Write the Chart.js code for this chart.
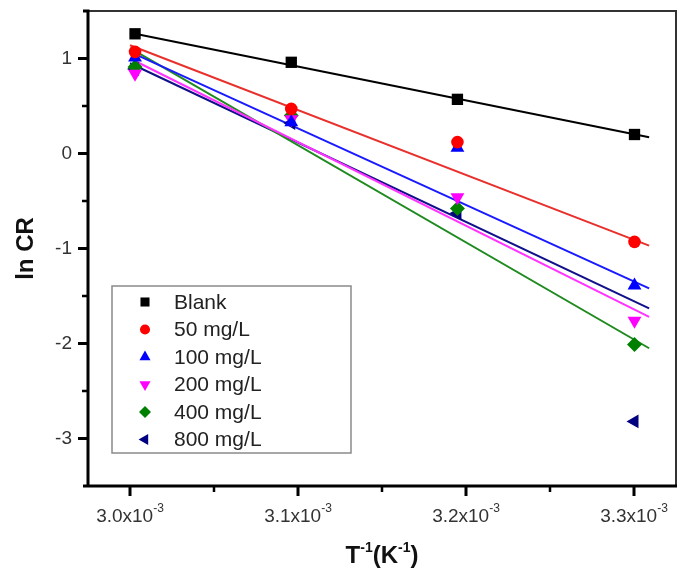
<!DOCTYPE html>
<html>
<head>
<meta charset="utf-8">
<script src="https://cdn.jsdelivr.net/npm/chart.js@4.4.0/dist/chart.umd.min.js"></script>
<style>
	html, body { margin: 0; padding: 0; background: #fff; }
</style>
</head>
<body>
<canvas id="chart-block" width="685" height="578"></canvas>
<script>
// 1/T in K^-1 (333, 323, 313, 303 K)
const invT = [0.0030030, 0.0030960, 0.0031949, 0.0033003];
const seriesNames = ['Blank', '50 mg/L', '100 mg/L', '200 mg/L', '400 mg/L', '800 mg/L'];

// ln CR
const lnBlank = [1.26, 0.96, 0.57, 0.20];
const ln50 = [1.07, 0.47, 0.12, -0.93];
const ln100 = [1.01, 0.33, 0.06, -1.39];
const ln200 = [0.84, 0.36, -0.46, -1.76];
const ln400 = [0.91, 0.40, -0.58, -2.01];
const ln800 = [0.89, 0.32, -0.63, -2.82];

// fitted straight lines, read at both ends
const fitX = [0.0030, 0.003309];
const fitBlank = [1.27, 0.17];
const fit50 = [1.14, -0.97];
const fit100 = [1.07, -1.42];
const fit200 = [1.00, -1.72];
const fit400 = [1.11, -2.05];
const fit800 = [0.95, -1.63];

// axis ticks
const xMajor = [0.0030, 0.0031, 0.0032, 0.0033];
const xMinor = [0.00305, 0.00315, 0.00325];
const yMajor = [-3, -2, -1, 0, 1];
const yMinor = [-2.5, -1.5, -0.5, 0.5];

const colors = ['#000000', '#ff0000', '#0000ff', '#ff00ff', '#008000', '#000080'];
const lineColors = ['#000000', '#e8302c', '#1a1aff', '#ff33ff', '#1f8a1f', '#10108a'];
const markers = ['rect', 'circle', 'triangle', 'triangle', 'rectRot', 'triangle'];
const markerRot = [0, 0, 0, 180, 0, -90];
const markerSize = [8, 6.3, 8, 8, 7.5, 8];

const FONT = '"Liberation Sans", Arial, sans-serif';

function pts(xs, ys) {
	return xs.map((x, i) => ({x: x, y: ys[i]}));
}

const pointSets = [lnBlank, ln50, ln100, ln200, ln400, ln800];
const fitSets = [fitBlank, fit50, fit100, fit200, fit400, fit800];

let datasets = [];
fitSets.forEach((f, i) => {
	datasets.push({
		label: seriesNames[i] + ' fit',
		data: pts(fitX, f),
		showLine: true,
		borderColor: lineColors[i],
		borderWidth: 2,
		pointRadius: 0,
		fill: false,
		order: 2
	});
});
pointSets.forEach((s, i) => {
	datasets.push({
		label: seriesNames[i],
		data: pts(invT, s),
		showLine: false,
		pointStyle: markers[i],
		rotation: markerRot[i],
		pointRadius: markerSize[i],
		backgroundColor: colors[i],
		borderColor: colors[i],
		borderWidth: 0,
		inLegend: true,
		order: 1
	});
});

const axesPlugin = {
	id: 'axesPlugin',
	afterDraw(chart) {
		const ctx = chart.ctx;
		const a = chart.chartArea;
		const xs = chart.scales.x, ys = chart.scales.y;
		ctx.save();

		// top and right frame
		ctx.strokeStyle = '#333';
		ctx.lineWidth = 2;
		ctx.beginPath();
		ctx.moveTo(a.left, a.top);
		ctx.lineTo(a.right, a.top);
		ctx.lineTo(a.right, a.bottom);
		ctx.stroke();

		// left and bottom axes
		ctx.strokeStyle = '#000';
		ctx.lineWidth = 3;
		ctx.beginPath();
		ctx.moveTo(a.left - 5, a.top);
		ctx.lineTo(a.left, a.top);
		ctx.lineTo(a.left, a.bottom);
		ctx.moveTo(a.left - 5, a.bottom);
		ctx.lineTo(a.right + 1, a.bottom);
		ctx.stroke();

		// ticks
		ctx.lineWidth = 3;
		ctx.beginPath();
		yMajor.forEach(v => {
			let p = ys.getPixelForValue(v);
			ctx.moveTo(a.left, p); ctx.lineTo(a.left - 10, p);
		});
		xMajor.forEach(v => {
			let p = xs.getPixelForValue(v);
			ctx.moveTo(p, a.bottom); ctx.lineTo(p, a.bottom + 10);
		});
		ctx.stroke();
		ctx.lineWidth = 2.5;
		ctx.beginPath();
		yMinor.forEach(v => {
			let p = ys.getPixelForValue(v);
			ctx.moveTo(a.left, p); ctx.lineTo(a.left - 6, p);
		});
		xMinor.forEach(v => {
			let p = xs.getPixelForValue(v);
			ctx.moveTo(p, a.bottom); ctx.lineTo(p, a.bottom + 6);
		});
		ctx.stroke();

		// x tick labels with superscript
		ctx.fillStyle = '#333';
		ctx.textBaseline = 'alphabetic';
		ctx.textAlign = 'left';
		xMajor.forEach(v => {
			let p = xs.getPixelForValue(v);
			let main = (v * 1000).toFixed(1) + 'x10';
			let sup = '-3';
			ctx.font = '19px ' + FONT;
			let w1 = ctx.measureText(main).width;
			ctx.font = '12px ' + FONT;
			let w2 = ctx.measureText(sup).width;
			let x0 = p - (w1 + w2) / 2;
			ctx.font = '19px ' + FONT;
			ctx.fillText(main, x0, 522);
			ctx.font = '12px ' + FONT;
			ctx.fillText(sup, x0 + w1, 512);
		});

		// x axis title T^-1(K^-1)
		let parts = [['T', 0], ['-1', 1], ['(K', 0], ['-1', 1], [')', 0]];
		let total = 0;
		parts.forEach(pp => {
			ctx.font = 'bold ' + (pp[1] ? 14 : 24) + 'px ' + FONT;
			total += ctx.measureText(pp[0]).width;
		});
		let cx = (a.left + a.right) / 2 - total / 2;
		ctx.fillStyle = '#111';
		parts.forEach(pp => {
			ctx.font = 'bold ' + (pp[1] ? 14 : 24) + 'px ' + FONT;
			ctx.fillText(pp[0], cx, pp[1] ? 552 : 563);
			cx += ctx.measureText(pp[0]).width;
		});

		// legend box
		ctx.strokeStyle = '#8a8a8a';
		ctx.lineWidth = 1.5;
		ctx.strokeRect(112, 286, 239, 167);
		let row = 0;
		chart.data.datasets.forEach(ds => {
			if (!ds.inLegend) return;
			let yy = 302 + row * 27.5;
			ctx.fillStyle = ds.backgroundColor;
			Chart.helpers.drawPoint(ctx, {
				pointStyle: ds.pointStyle,
				rotation: ds.rotation,
				radius: ds.pointRadius * 0.8,
				borderWidth: 0
			}, 145, yy);
			ctx.fillStyle = '#222';
			ctx.font = '21px ' + FONT;
			ctx.textBaseline = 'middle';
			ctx.fillText(ds.label, 174, yy + 1);
			ctx.textBaseline = 'alphabetic';
			row++;
		});

		ctx.restore();
	}
};

let ctx = document.getElementById('chart-block').getContext('2d');
let lnChart = new Chart(ctx, {
	type: 'scatter',
	data: { datasets: datasets },
	options: {
		responsive: false,
		animation: false,
		layout: { padding: { top: 11, right: 9, left: 0, bottom: 0 } },
		plugins: {
			legend: { display: false },
			tooltip: { enabled: false }
		},
		scales: {
			x: {
				type: 'linear',
				min: 0.002975,
				max: 0.003325,
				grid: { display: false, drawTicks: false },
				border: { display: false },
				ticks: { display: false },
				afterFit: (scale) => {
					scale.height = 92;
					scale.paddingLeft = 0;
					scale.paddingRight = 0;
				}
			},
			y: {
				type: 'linear',
				min: -3.5,
				max: 1.5,
				grid: { display: false, drawTicks: false },
				border: { display: false },
				ticks: {
					stepSize: 0.5,
					autoSkip: false,
					padding: 16,
					color: '#333',
					font: { family: FONT, size: 19 },
					callback: (v) => yMajor.includes(v) ? String(v) : ''
				},
				title: {
					display: true,
					text: 'ln CR',
					color: '#111',
					font: { family: FONT, size: 24, weight: 'bold' },
					padding: { top: 12, bottom: 0 }
				},
				afterFit: (scale) => {
					scale.width = 88;
					scale.paddingTop = 0;
					scale.paddingBottom = 0;
				}
			}
		}
	},
	plugins: [axesPlugin]
});
</script>
</body>
</html>
